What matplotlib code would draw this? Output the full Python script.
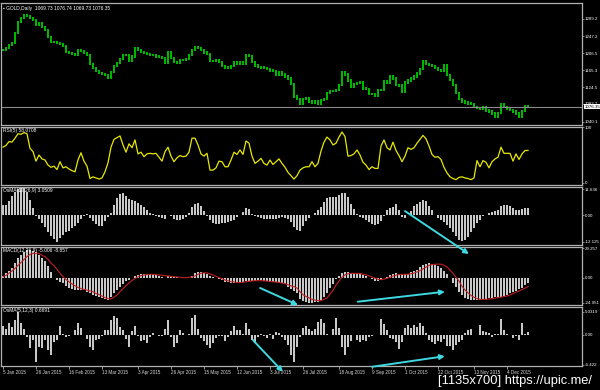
import matplotlib
matplotlib.use('Agg')
import matplotlib.pyplot as plt
import matplotlib.transforms as mtransforms
from matplotlib.patches import ConnectionPatch
import numpy as np

plt.rcParams['font.family'] = 'Liberation Sans'

# ── Dados (um valor a cada ~3 px / barra) ────────────────────────────────────

close = [
    1214, 1219, 1226, 1231, 1255, 1282, 1292, 1299, 1296, 1292,
    1287, 1275, 1280, 1270, 1263, 1246, 1234, 1234, 1231, 1229,
    1224, 1209, 1207, 1204, 1202, 1214, 1212, 1207, 1202, 1180,
    1171, 1163, 1158, 1156, 1154, 1146, 1161, 1175, 1183, 1192,
    1202, 1202, 1187, 1199, 1219, 1214, 1209, 1207, 1204, 1202,
    1202, 1199, 1197, 1195, 1183, 1209, 1195, 1185, 1183, 1190,
    1190, 1192, 1202, 1214, 1221, 1219, 1214, 1208, 1205, 1187,
    1188, 1190, 1185, 1175, 1170, 1172, 1175, 1185, 1182, 1185,
    1180, 1202, 1200, 1185, 1177, 1173, 1172, 1170, 1168, 1165,
    1163, 1155, 1160, 1155, 1150, 1145, 1132, 1102, 1095, 1085,
    1095, 1097, 1090, 1087, 1090, 1085, 1093, 1095, 1110, 1115,
    1115, 1117, 1130, 1160, 1155, 1140, 1125, 1132, 1134, 1135,
    1121, 1120, 1108, 1108, 1103, 1117, 1118, 1138, 1135, 1150,
    1145, 1130, 1128, 1114, 1135, 1140, 1145, 1150, 1157, 1168,
    1187, 1180, 1178, 1175, 1170, 1166, 1163, 1178, 1154, 1142,
    1130, 1110, 1095, 1090, 1087, 1085, 1083, 1076, 1074, 1072,
    1075, 1068, 1065, 1060, 1052, 1062, 1082, 1076, 1072, 1069,
    1065, 1060, 1052, 1066, 1078, 1076.35,
]

rsi = [
    64, 67, 74, 73, 80, 88, 87, 90, 88, 62,
    56, 39, 50, 43, 41, 32, 28, 30, 24, 38,
    27, 29, 25, 22, 20, 41, 54, 39, 30, 8,
    11, 9, 7, 9, 20, 36, 64, 78, 81, 84,
    68, 55, 70, 63, 77, 52, 55, 47, 52, 53,
    52, 53, 46, 39, 56, 64, 48, 38, 45, 49,
    47, 48, 55, 80, 80, 68, 52, 48, 53, 23,
    23, 27, 39, 38, 29, 29, 41, 55, 51, 59,
    51, 75, 71, 48, 35, 39, 44, 35, 32, 41,
    33, 38, 43, 35, 28, 19, 13, 7, 13, 23,
    27, 29, 29, 38, 29, 35, 57, 73, 82, 77,
    68, 71, 82, 91, 83, 48, 49, 52, 59, 50,
    37, 32, 24, 29, 26, 26, 66, 77, 63, 59,
    73, 58, 49, 38, 48, 63, 60, 63, 71, 78,
    85, 79, 66, 51, 46, 47, 42, 28, 18, 11,
    8, 6, 10, 11, 9, 8, 6, 9, 40, 29,
    40, 37, 27, 38, 43, 46, 64, 53, 53, 53,
    39, 52, 42, 52, 58, 58.0708,
]

osma_slow = [
    4.5, 4.8, 6.3, 8.5, 10.6, 12.0, 12.2, 12.2, 10.4, 6.8,
    3.3, -0.5, -1.9, -3.6, -5.6, -7.7, -9.5, -10.9, -12.1, -10.6,
    -9.2, -7.9, -7.1, -6.0, -5.0, -3.4, -2.0, -0.6, 0.3, -1.3,
    -2.9, -4.1, -5.1, -5.1, -2.6, -1.0, 1.0, 4.5, 7.8, 9.6,
    10.2, 8.6, 7.2, 6.8, 6.4, 5.7, 4.8, 3.5, 2.1, 0.8,
    0.3, -0.4, -0.7, -1.2, -2.0, 0.2, -0.6, -1.8, -2.1, -2.3,
    -1.8, -1.0, 1.0, 3.7, 5.2, 5.5, 4.0, 1.9, -0.2, -2.3,
    -3.7, -4.1, -4.0, -3.8, -3.8, -3.3, -2.8, -2.1, -0.7, 0.2,
    1.4, 3.2, 2.7, 0.7, -0.4, -0.9, -1.3, -1.6, -1.8, -2.0,
    -1.8, -1.6, -1.3, -1.1, -1.2, -2.0, -3.0, -5.5, -6.8, -7.2,
    -4.8, -2.7, -1.2, 0.0, 0.9, 2.1, 3.5, 5.8, 7.6, 8.3,
    8.3, 8.3, 9.2, 10.2, 10.0, 8.0, 5.1, 2.6, 0.6, -0.8,
    -1.4, -2.2, -3.2, -4.1, -4.5, -4.2, -2.7, -0.2, 2.3, 3.0,
    3.7, 5.0, 2.4, -0.9, -1.5, -0.1, 2.0, 4.0, 5.1, 6.0,
    6.7, 6.6, 4.0, 2.1, 0.0, -1.4, -2.3, -3.3, -4.7, -6.1,
    -7.5, -9.5, -11.3, -11.8, -11.2, -10.0, -7.6, -5.7, -3.6, -2.2,
    -0.6, 0.2, 0.9, 1.3, 1.8, 2.2, 3.9, 4.4, 4.5, 4.1,
    3.2, 2.3, 2.3, 2.6, 3.0, 3.0509,
]

macd_main = [
    2, 5, 6.8, 10, 14.7, 19.4, 22.4, 25.3, 27.4, 27.6,
    26.8, 25.4, 22.6, 19.4, 16.3, 11.8, 5.9, -0.5, -2.5, -4,
    -5.5, -8.3, -10.2, -11.7, -12.3, -12.3, -12.3, -12.6, -14.2, -15.7,
    -17.1, -18.7, -19.5, -20.3, -21.2, -22.2, -19.6, -15.5, -12, -9.3,
    -6, -3.5, -2, -0.4, 1.7, 3.2, 3.6, 3.5, 3.3, 3.3,
    3.3, 2.8, 1.8, 1, -0.7, 1.6, 1.3, 0.9, 0.3, -0.2,
    -0.7, -0.7, -0.4, 1.9, 5, 5.9, 6, 4.8, 3.3, 1.8,
    0.7, 0, -1, -2.5, -4, -4.6, -5.2, -5.6, -5.2, -4.7,
    -4.1, -3.5, -3, -3, -2.8, -2.4, -2.7, -3.1, -3.7, -4,
    -4, -4.5, -5, -5.5, -6.6, -8.8, -10.9, -12.9, -15.7, -21,
    -23.6, -24.5, -24.8, -24.8, -24.6, -24, -22.5, -19.7, -15.2, -10.7,
    -6.2, -1.7, 1.7, 4.7, 6, 5.3, 4.3, 4.3, 4.2, 3.3,
    2.8, 1.3, -0.2, -1.3, -2.9, -3.4, -1.8, -0.4, 1.2, 2.7,
    4.1, 4.3, 3.6, 3.3, 3.5, 4.2, 5.3, 6.3, 7.9, 10.3,
    12.5, 14, 14.3, 13.9, 13.2, 12, 10, 7, 4, -0.7,
    -5.2, -9.7, -14.2, -17.7, -19.9, -21.1, -21.9, -22.3, -22.3, -22.1,
    -21.7, -21.2, -20.6, -20, -19.5, -19.2, -18.9, -18, -17.2, -15.7,
    -14.2, -13.2, -11.7, -9.8, -7.5, -5.006,
]

macd_signal = [
    1, 2.3, 4.5, 6.7, 9.3, 12.3, 15.3, 18.3, 21.2, 23.2,
    24.3, 24.3, 24.3, 22.4, 21, 18.4, 14.6, 12.1, 8.2, 4.3,
    1.1, -1.8, -4, -6.3, -8.1, -9.7, -10.9, -11.6, -12.4, -13.2,
    -14, -15.8, -16.8, -18.3, -19.9, -20.9, -21.2, -19.6, -17.3, -14,
    -11, -8, -5.2, -2.8, -0.8, 0.9, 2, 2.7, 3.3, 3.3,
    3.3, 3.1, 2.8, 2.4, 1.9, 1.6, 1.3, 1, 0.6, 0.3,
    0.1, 0, 0.3, 0.8, 1.8, 3.4, 4.5, 4.8, 4.9, 3.8,
    2.7, 1.4, 0, -1.2, -2.3, -3.2, -4, -4.4, -4.7, -5,
    -4.5, -4.1, -3.6, -3.3, -3, -3, -3, -3.1, -3.4, -3.6,
    -4, -4.4, -4.8, -5.4, -6, -7, -8.2, -9, -10.3, -14,
    -17, -18.7, -20.2, -21.7, -22.5, -22.8, -22.9, -21.6, -20.3, -16.5,
    -12.7, -7.3, -3.5, 0.5, 2.8, 4, 4.3, 4.3, 4.3, 4.3,
    3.5, 2.9, 1.9, 0.8, -0.4, -1.6, -2, -1.4, -0.6, 0.5,
    1.6, 2.5, 3.2, 3.3, 3.3, 3.5, 4, 4.6, 5.8, 7,
    8.8, 10.6, 12.3, 13.2, 13.4, 13.6, 13.5, 12.4, 10.7, 7.6,
    4.3, 0.5, -3.3, -8.6, -12.3, -15, -17.8, -19.5, -20.9, -21.7,
    -21.7, -21.7, -21.4, -21, -20.5, -19.9, -19.4, -18.9, -18.3, -17.3,
    -16, -14.6, -13.3, -11.9, -10.5, -8.857,
]

osma_fast = [
    1.9, 1.4, 2.6, 1.7, 3.3, 5.0, 2.5, 1.4, -0.4, -2.9,
    -1.1, -5.8, -2.5, -2.9, -1.1, -3.3, -4.3, -1.5, -1.1, 2.0,
    0.2, -0.5, -0.2, 0.0, 1.1, 2.5, 1.5, 0.1, -0.8, -2.5,
    -3.3, -1.1, -0.8, -0.2, 1.1, 1.1, 3.3, 4.1, 3.6, 1.7,
    1.0, -0.8, -2.5, 0.8, 2.0, -0.2, -1.3, -1.0, -1.8, -0.4,
    0.5, -0.1, -0.2, -0.2, 1.4, 3.3, -0.5, -2.5, -1.8, 1.1,
    0.4, 0.1, 0.2, 3.6, 4.3, 1.4, -0.7, -1.3, -2.2, -2.9,
    -1.8, -0.6, -0.2, -0.3, -1.2, -0.5, 0.9, 2.0, 1.1, 1.1,
    0.2, 2.5, 1.2, -1.1, -1.8, -0.5, 0.3, -0.3, -0.6, 0.2,
    -0.9, 0.6, 0.5, -0.5, -1.0, -2.2, -4.3, -5.8, -2.5, -0.4,
    1.6, 2.0, 1.2, 0.8, 1.4, 2.9, 3.5, 2.5, 0.2, 0.0,
    1.2, 3.7, 1.6, -2.6, -4.4, -2.6, -1.2, 0.1, -1.0, -1.5,
    -1.0, -1.3, -0.5, -0.2, 0.0, 0.0, 3.5, 2.3, 1.1, -0.6,
    -0.8, -1.5, -3.0, -1.5, 1.5, 2.1, 1.6, 2.1, 1.8, 2.7,
    2.0, 0.4, -1.0, -1.6, -2.0, -1.3, -1.6, -0.9, -2.4, -2.3,
    -3.2, -2.2, -1.5, -1.1, 0.5, 1.0, 1.3, 0.0, 0.0, 2.1,
    0.9, 0.6, 0.5, -0.5, 0.2, 0.2, 3.5, 1.0, 0.2, 0.1,
    -0.6, -0.2, -1.0, 2.6, 0.3, 0.6691,
]

date_pos = [0, 11, 22, 33, 45, 56, 67, 78, 89, 100, 112, 123, 134, 145, 157, 168]
date_labels = ['5 Jan 2015', '26 Jan 2015', '16 Feb 2015', '13 Mar 2015',
               '3 Apr 2015', '26 Apr 2015', '15 May 2015', '12 Jun 2015',
               '3 Jul 2015', '26 Jul 2015', '18 Aug 2015', '9 Sep 2015',
               '1 Oct 2015', '22 Oct 2015', '13 Nov 2015', '4 Dec 2015']

price_ticks = [1289.2, 1247.2, 1206.5, 1165.3, 1124.5, 1083.7, 1040.1]
rsi_ticks = [100, 0]
slow_ticks = [11.636, 0.0, -12.125]
macd_ticks = [29.257, 0.0, -24.951]
fast_ticks = [5.0319, 0.0, -6.422]

# setas desenhadas a mao no grafico original (painel, barra, valor)
arrows = [
    ('slow', 134.0, 1.8, 'macd', 155.3, 23.7),
    ('macd', 85.7, -10.3, 'macd', 98.3, -27.3),
    ('macd', 118.3, -24.0, 'macd', 147.3, -14.0),
    ('fast', 83.3, -1.1, 'fast', 93.3, -8.0),
    ('fast', 123.0, -6.9, 'fast', 147.3, -4.6),
]

# ── Estilo ────────────────────────────────────────────────────────────────────

W, H = 600, 390
BG = 'black'
FRAME = '#b0b0b0'
BAR_GREEN = '#00dc00'
HIST = '#c8c8c8'
RSI_COLOR = '#e8e800'
SIGNAL = '#c02020'
CYAN = '#3ed8e0'
FS = 3.2

x = np.arange(len(close))
fig = plt.figure(figsize=(W / 100, H / 100), dpi=100, facecolor=BG)


def panel(top, bottom):
    ax = fig.add_axes([1 / W, 1 - bottom / H, 581 / W, (bottom - top) / H])
    ax.set_facecolor(BG)
    for s in ax.spines.values():
        s.set_color(FRAME)
        s.set_linewidth(0.9)
    ax.set_xlim(-0.667, 193)
    ax.yaxis.tick_right()
    ax.tick_params(axis='y', length=1.5, width=0.5, color=FRAME,
                   labelcolor='white', labelsize=FS, pad=0.6)
    ax.tick_params(axis='x', bottom=False, labelbottom=False)
    return ax


def title(ax, txt):
    ax.text(0.004, 0.975, txt, transform=ax.transAxes, ha='left', va='top',
            fontsize=3.5, color='white')


def fmt_ticks(ax, ticks, labels):
    ax.set_yticks(ticks)
    ax.set_yticklabels(labels)


# ── Painel de preco ──────────────────────────────────────────────────────────

ax_p = panel(3, 124.5)
ax_p.set_ylim(1033.9, 1327.9)
prev = np.r_[close[0], close[:-1]]
lo = np.minimum(prev, close) - 3
hi = np.maximum(prev, close) + 3
ax_p.vlines(x, lo, hi, color=BAR_GREEN, lw=1.2)
ax_p.axhline(close[-1], color='#8a8a8a', lw=0.8)
fmt_ticks(ax_p, price_ticks, [f'{v:.1f}' for v in price_ticks])
trans = mtransforms.blended_transform_factory(ax_p.transAxes, ax_p.transData)
ax_p.text(1.004, close[-1], f'{close[-1]:.2f}', transform=trans, fontsize=FS,
          color='black', va='center', ha='left',
          bbox=dict(facecolor='white', edgecolor='none', pad=0.4))
title(ax_p, '\u25aa GOLD,Daily  1069.73 1076.74 1069.73 1076.35')

# ── RSI ──────────────────────────────────────────────────────────────────────

ax_r = panel(126.5, 184.5)
ax_r.set_ylim(-2.7, 100.9)
ax_r.plot(x, rsi, color=RSI_COLOR, lw=0.9)
fmt_ticks(ax_r, rsi_ticks, ['100', '0'])
title(ax_r, f'RSI(5) {rsi[-1]:.4f}')

# ── OsMA(12,26,9) ────────────────────────────────────────────────────────────

ax_s = panel(186.5, 244.5)
ax_s.set_ylim(-13.4, 13.0)
ax_s.bar(x, osma_slow, width=0.5, color=HIST, linewidth=0)
fmt_ticks(ax_s, slow_ticks, ['11.636', '0.00', '-12.125'])
title(ax_s, f'OsMA(12,26,9) {osma_slow[-1]:.4f}')

# ── MACD ─────────────────────────────────────────────────────────────────────

ax_m = panel(246.5, 304.5)
ax_m.set_ylim(-26.8, 31.2)
ax_m.bar(x, macd_main, width=0.5, color=HIST, linewidth=0)
ax_m.plot(x, macd_signal, color=SIGNAL, lw=0.8)
fmt_ticks(ax_m, macd_ticks, ['29.257', '0.00', '-24.951'])
title(ax_m, f'MACD(12,26,9) {macd_main[-1]:.3f} {macd_signal[-1]:.3f}')

# ── OsMA(5,12,3) ─────────────────────────────────────────────────────────────

ax_f = panel(306.5, 365.5)
ax_f.set_ylim(-6.62, 6.18)
ax_f.bar(x, osma_fast, width=0.5, color=HIST, linewidth=0)
fmt_ticks(ax_f, fast_ticks, ['5.0319', '0.00', '-6.422'])
title(ax_f, f'OsMA(5,12,3) {osma_fast[-1]:.4f}')
ax_f.set_xticks(date_pos)
ax_f.set_xticklabels(date_labels, ha='left')
ax_f.tick_params(axis='x', bottom=True, labelbottom=True, length=2.5, width=0.6,
                 color=FRAME, labelcolor='#d8d8d8', labelsize=3.3, pad=1.0)

# ── Setas ciano ──────────────────────────────────────────────────────────────

axes = {'slow': ax_s, 'macd': ax_m, 'fast': ax_f}
for a, xa, ya, b, xb, yb in arrows:
    con = ConnectionPatch(xyA=(xa, ya), coordsA='data', axesA=axes[a],
                          xyB=(xb, yb), coordsB='data', axesB=axes[b],
                          arrowstyle='-|>', color=CYAN, lw=1.4,
                          mutation_scale=7)
    con.set_annotation_clip(False)
    fig.add_artist(con)

fig.text(0.73, 9 / H, '[1135x700] https://upic.me/', color='white',
         fontsize=9.3, ha='left', va='center')

fig.savefig('out.png', dpi=100, facecolor=BG)
